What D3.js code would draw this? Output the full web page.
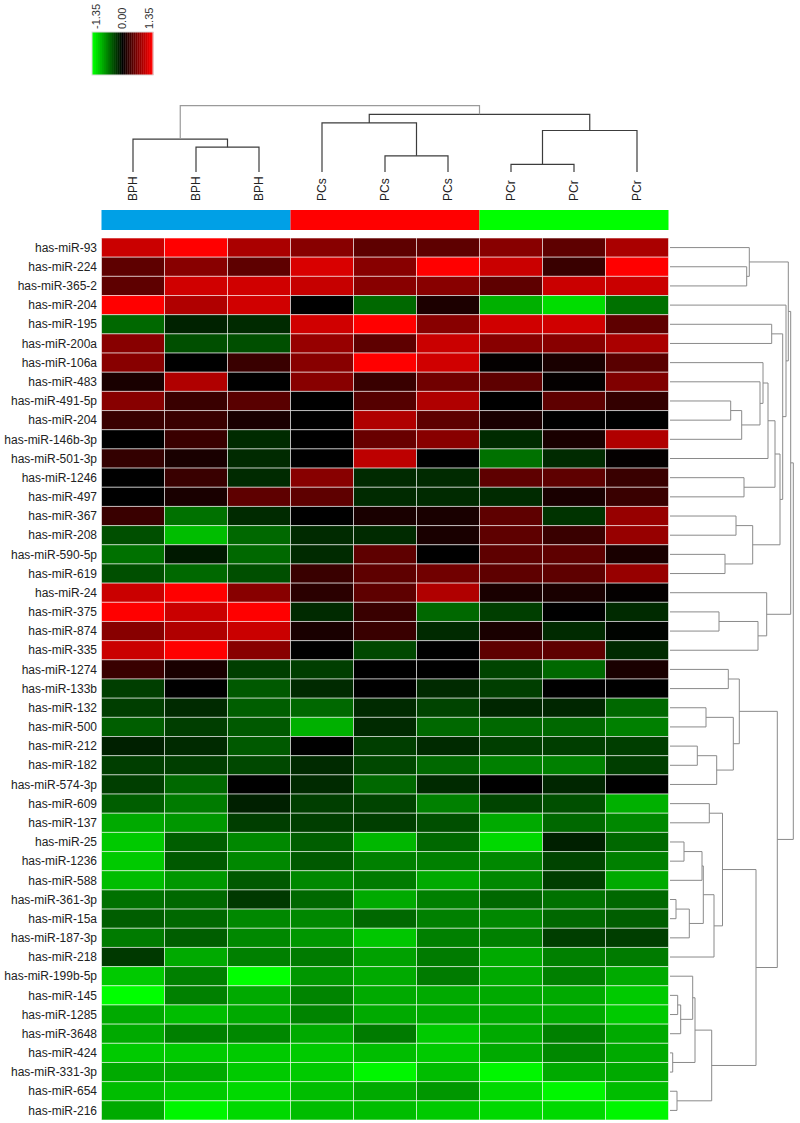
<!DOCTYPE html>
<html><head><meta charset="utf-8">
<script src="https://cdn.jsdelivr.net/npm/d3@7"></script>
<style>
body{margin:0;background:#fff}
svg{display:block}
text{font-family:"Liberation Sans",Arial,Helvetica,sans-serif}
</style>
</head><body>
<svg id="chart" width="800" height="1123"></svg>
<script>
// ---------- data ----------
const sampleLabels = ["BPH","BPH","BPH","PCs","PCs","PCs","PCr","PCr","PCr"];
const groupNames = ["BPH","PCs","PCr"];
const rowLabels = ["has-miR-93","has-miR-224","has-miR-365-2","has-miR-204","has-miR-195","has-miR-200a",
"has-miR-106a","has-miR-483","has-miR-491-5p","has-miR-204","has-miR-146b-3p","has-miR-501-3p",
"has-miR-1246","has-miR-497","has-miR-367","has-miR-208","has-miR-590-5p","has-miR-619","has-miR-24",
"has-miR-375","has-miR-874","has-miR-335","has-miR-1274","has-miR-133b","has-miR-132","has-miR-500",
"has-miR-212","has-miR-182","has-miR-574-3p","has-miR-609","has-miR-137","has-miR-25","has-miR-1236",
"has-miR-588","has-miR-361-3p","has-miR-15a","has-miR-187-3p","has-miR-218","has-miR-199b-5p",
"has-miR-145","has-miR-1285","has-miR-3648","has-miR-424","has-miR-331-3p","has-miR-654","has-miR-216"];
const values = [
[1.07,1.35,0.9,0.72,0.5,0.5,0.72,0.5,0.9],
[0.5,0.72,0.5,1.15,0.72,1.35,1.07,0.3,1.35],
[0.5,1.1,1.1,1.05,0.72,0.72,0.5,1.07,1.07],
[1.35,0.93,1.1,0,-0.55,0.15,-0.93,-1.17,-0.6],
[-0.55,-0.18,-0.22,1.1,1.35,0.72,1.1,1.1,0.5],
[0.72,-0.42,-0.42,0.8,0.5,1.07,0.72,0.72,0.9],
[0.72,0,0.3,0.72,1.35,1.1,0.02,0.13,0.47],
[0.13,0.93,0,0.72,0.3,0.6,0.5,0.02,0.68],
[0.72,0.3,0.47,0,0.45,0.93,0,0.5,0.27],
[0.3,0.3,0.13,0,0.93,0.5,0.13,0,0],
[0,0.3,-0.22,0,0.55,0.72,-0.22,0.13,0.93],
[0.27,0.13,-0.22,0,1.0,0,-0.6,-0.22,0.02],
[0,0.3,-0.22,0.72,-0.22,-0.22,0.5,0.5,0.3],
[0,0.13,0.5,0.5,-0.22,-0.22,-0.22,0.13,0.3],
[0.3,-0.6,-0.22,0,0.13,0.13,0.5,-0.27,0.8],
[-0.42,-1.0,-0.55,-0.22,-0.22,0.13,0.5,0.3,0.8],
[-0.6,-0.13,-0.55,-0.22,0.5,0,0.5,0.5,0.13],
[-0.42,-0.55,-0.42,0.3,0.5,0.6,0.5,0.5,0.8],
[1.07,1.35,0.72,0.22,0.5,0.93,0.13,0.13,0.02],
[1.35,1.07,1.35,-0.22,0.3,-0.55,-0.33,0,-0.22],
[0.72,0.93,1.07,0.13,0.3,-0.22,0.13,-0.22,-0.02],
[1.07,1.35,0.72,0,-0.38,0,0.5,0.5,-0.22],
[0.3,0.13,-0.33,-0.33,0,0,-0.36,-0.55,0.13],
[-0.33,0,-0.47,-0.22,0,-0.22,-0.33,0,0],
[-0.33,-0.22,-0.5,-0.55,-0.22,-0.36,-0.2,-0.2,-0.55],
[-0.5,-0.33,-0.47,-0.93,-0.22,-0.55,-0.55,-0.55,-0.68],
[-0.17,-0.22,-0.47,0,-0.33,-0.22,-0.33,-0.33,-0.33],
[-0.33,-0.33,-0.38,-0.22,-0.38,-0.55,-0.68,-0.68,-0.33],
[-0.33,-0.55,0,-0.22,-0.55,-0.22,0,-0.2,0],
[-0.5,-0.65,-0.17,-0.33,-0.36,-0.68,-0.36,-0.42,-0.93],
[-0.9,-0.8,-0.33,-0.33,-0.33,-0.42,-0.9,-0.55,-0.72],
[-1.07,-0.5,-0.72,-0.5,-0.97,-0.55,-1.15,-0.17,-0.55],
[-1.07,-0.47,-0.72,-0.47,-0.68,-0.68,-0.72,-0.36,-0.68],
[-1.0,-0.8,-0.47,-0.72,-0.65,-0.9,-0.72,-0.33,-0.9],
[-0.6,-0.55,-0.3,-0.55,-0.9,-0.68,-0.55,-0.6,-0.55],
[-0.5,-0.55,-0.72,-0.72,-0.55,-0.68,-0.72,-0.55,-0.5],
[-0.65,-0.5,-0.72,-0.8,-1.05,-0.68,-0.68,-0.33,-0.33],
[-0.3,-0.9,-0.68,-0.65,-0.85,-0.65,-0.9,-0.68,-0.65],
[-1.07,-0.68,-1.35,-0.8,-0.9,-0.65,-0.9,-0.68,-0.9],
[-1.35,-0.68,-0.9,-0.7,-0.9,-0.9,-0.9,-0.9,-1.07],
[-0.9,-1.0,-0.9,-0.7,-0.9,-0.9,-0.9,-0.9,-1.07],
[-0.9,-0.68,-0.72,-0.9,-0.65,-1.07,-0.9,-0.68,-0.9],
[-1.07,-1.07,-1.07,-1.07,-1.0,-1.07,-0.9,-0.72,-0.9],
[-0.9,-0.9,-1.07,-1.07,-1.3,-1.0,-1.3,-0.9,-0.9],
[-1.0,-1.07,-1.15,-1.0,-0.9,-0.8,-1.15,-1.3,-1.0],
[-0.9,-1.3,-1.15,-1.0,-1.0,-1.07,-1.15,-1.15,-1.3]
];
const legendTicks = [-1.35, 0, 1.35];
// column dendrogram merges: [childA, childB, height]; leaves 0..8, merges numbered from 9
const colMerges = [[1,2,0.49],[0,9,0.65],[4,5,0.32],[3,11,0.97],[6,7,0.15],[13,8,0.82],[12,14,1.14],[10,15,1.31]];
// row dendrogram merges: leaves 0..45, merges numbered from 46
const rowMerges = [
[1,2,0.767],[0,46,0.793],[4,5,1.017],[8,9,0.607],[49,10,0.717],[7,50,0.90],[6,51,0.93],[52,11,0.98],
[12,13,0.74],[53,54,1.05],[14,15,0.66],[16,17,0.55],[56,57,0.827],[55,58,1.10],[48,59,1.127],[3,60,1.16],
[47,61,1.183],[19,20,0.49],[63,21,0.88],[18,64,0.967],[62,65,1.207],
[22,23,0.583],[24,25,0.36],[26,27,0.273],[69,28,0.467],[68,70,0.633],[67,71,0.693],[29,30,0.393],
[31,32,0.14],[74,33,0.32],[34,35,0.06],[76,36,0.193],[75,77,0.333],[78,37,0.44],[73,79,0.525],
[39,40,0.077],[81,41,0.107],[38,82,0.227],[42,43,0.027],[83,84,0.25],[44,45,0.07],[85,86,0.417],
[80,87,0.86],[72,88,1.073],[66,89,1.233]
];

// ---------- styles ----------
const groupColors = {BPH:"#00a0e6", PCs:"#ff0000", PCr:"#00ff00"};

const svg = d3.select("#chart");
const nCol = sampleLabels.length, nRow = rowLabels.length;
const x = d3.scaleBand().domain(d3.range(nCol)).range([101.5, 668.5]);
const y = d3.scaleBand().domain(d3.range(nRow)).range([238, 1120]);
const color = d3.scaleLinear().domain([-1.35,0,1.35]).range(["#00ff00","#000000","#ff0000"]).clamp(true);

// heatmap cells
const cells = [];
values.forEach((row,i)=>row.forEach((v,j)=>cells.push({i,j,v})));
svg.append("g").selectAll("rect").data(cells).join("rect")
  .attr("x",d=>x(d.j)).attr("y",d=>y(d.i))
  .attr("width",x.bandwidth()).attr("height",y.bandwidth())
  .attr("fill",d=>color(d.v))
  .attr("stroke","rgba(255,255,255,0.55)").attr("stroke-width",1);

// row labels
svg.append("g").selectAll("text").data(rowLabels).join("text")
  .attr("x",97).attr("y",(d,i)=>y(i)+y.bandwidth()/2).attr("dy","0.35em")
  .attr("text-anchor","end").attr("font-size",12).attr("fill","#222").text(d=>d);

// group colour bar
const gx = d3.scaleBand().domain(groupNames).range([101.5, 668.5]);
svg.append("g").selectAll("rect").data(groupNames).join("rect")
  .attr("x",d=>gx(d)).attr("y",210).attr("width",gx.bandwidth()).attr("height",20)
  .attr("fill",d=>groupColors[d]);

// column labels
svg.append("g").selectAll("text").data(sampleLabels).join("text")
  .attr("transform",(d,i)=>`translate(${x(i)+x.bandwidth()/2},201) rotate(-90)`)
  .attr("dy","0.35em").attr("font-size",12).attr("fill","#222").text(d=>d);

function layout(n, merges, leafPos){
  const pos=[], h=[];
  for(let i=0;i<n;i++){pos[i]=leafPos(i);h[i]=0;}
  merges.forEach(([a,b,ht],k)=>{pos[n+k]=(pos[a]+pos[b])/2;h[n+k]=ht;});
  return {pos,h};
}

// column dendrogram
const cy = d3.scaleLinear().domain([0,1.31]).range([172,105.7]);
const ct = layout(nCol, colMerges, i=>x(i)+x.bandwidth()/2);
svg.append("g").attr("fill","none").selectAll("path").data(colMerges).join("path")
  .attr("d",([a,b,ht])=>`M${ct.pos[a]},${cy(ct.h[a])}V${cy(ht)}H${ct.pos[b]}V${cy(ct.h[b])}`)
  .attr("stroke",(d,k)=>k===colMerges.length-1?"#9a9a9a":"#3c3c3c").attr("stroke-width",1.2);

// row dendrogram
const rx = d3.scaleLinear().domain([0,1.25]).range([670,795]);
const rt = layout(nRow, rowMerges, i=>y(i)+y.bandwidth()/2);
svg.append("g").attr("fill","none").selectAll("path").data(rowMerges).join("path")
  .attr("d",([a,b,ht])=>`M${rx(rt.h[a])},${rt.pos[a]}H${rx(ht)}V${rt.pos[b]}H${rx(rt.h[b])}`)
  .attr("stroke","#8a8a8a").attr("stroke-width",1);

// colour legend
const nSteps = 31;
const lx = d3.scaleLinear().domain([0,nSteps]).range([92,153]);
const stepVal = d3.scaleLinear().domain([0,nSteps-1]).range([-1.35,1.35]);
const lg = svg.append("g");
lg.selectAll("rect").data(d3.range(nSteps)).join("rect")
  .attr("x",d=>lx(d)).attr("y",32).attr("width",lx(1)-lx(0)+0.3).attr("height",43)
  .attr("fill",d=>color(stepVal(d)));
lg.append("rect").attr("x",92).attr("y",32).attr("width",61).attr("height",43)
  .attr("fill","none").attr("stroke","#dcdcdc").attr("stroke-width",1);
const tl = d3.scaleLinear().domain([-1.35,1.35]).range([96,149]);
lg.selectAll("text").data(legendTicks).join("text")
  .attr("transform",d=>`translate(${tl(d)},29) rotate(-90)`)
  .attr("dy","0.35em").attr("font-size",11).attr("fill","#333")
  .text(d=>d.toFixed(2));
</script>
</body></html>
